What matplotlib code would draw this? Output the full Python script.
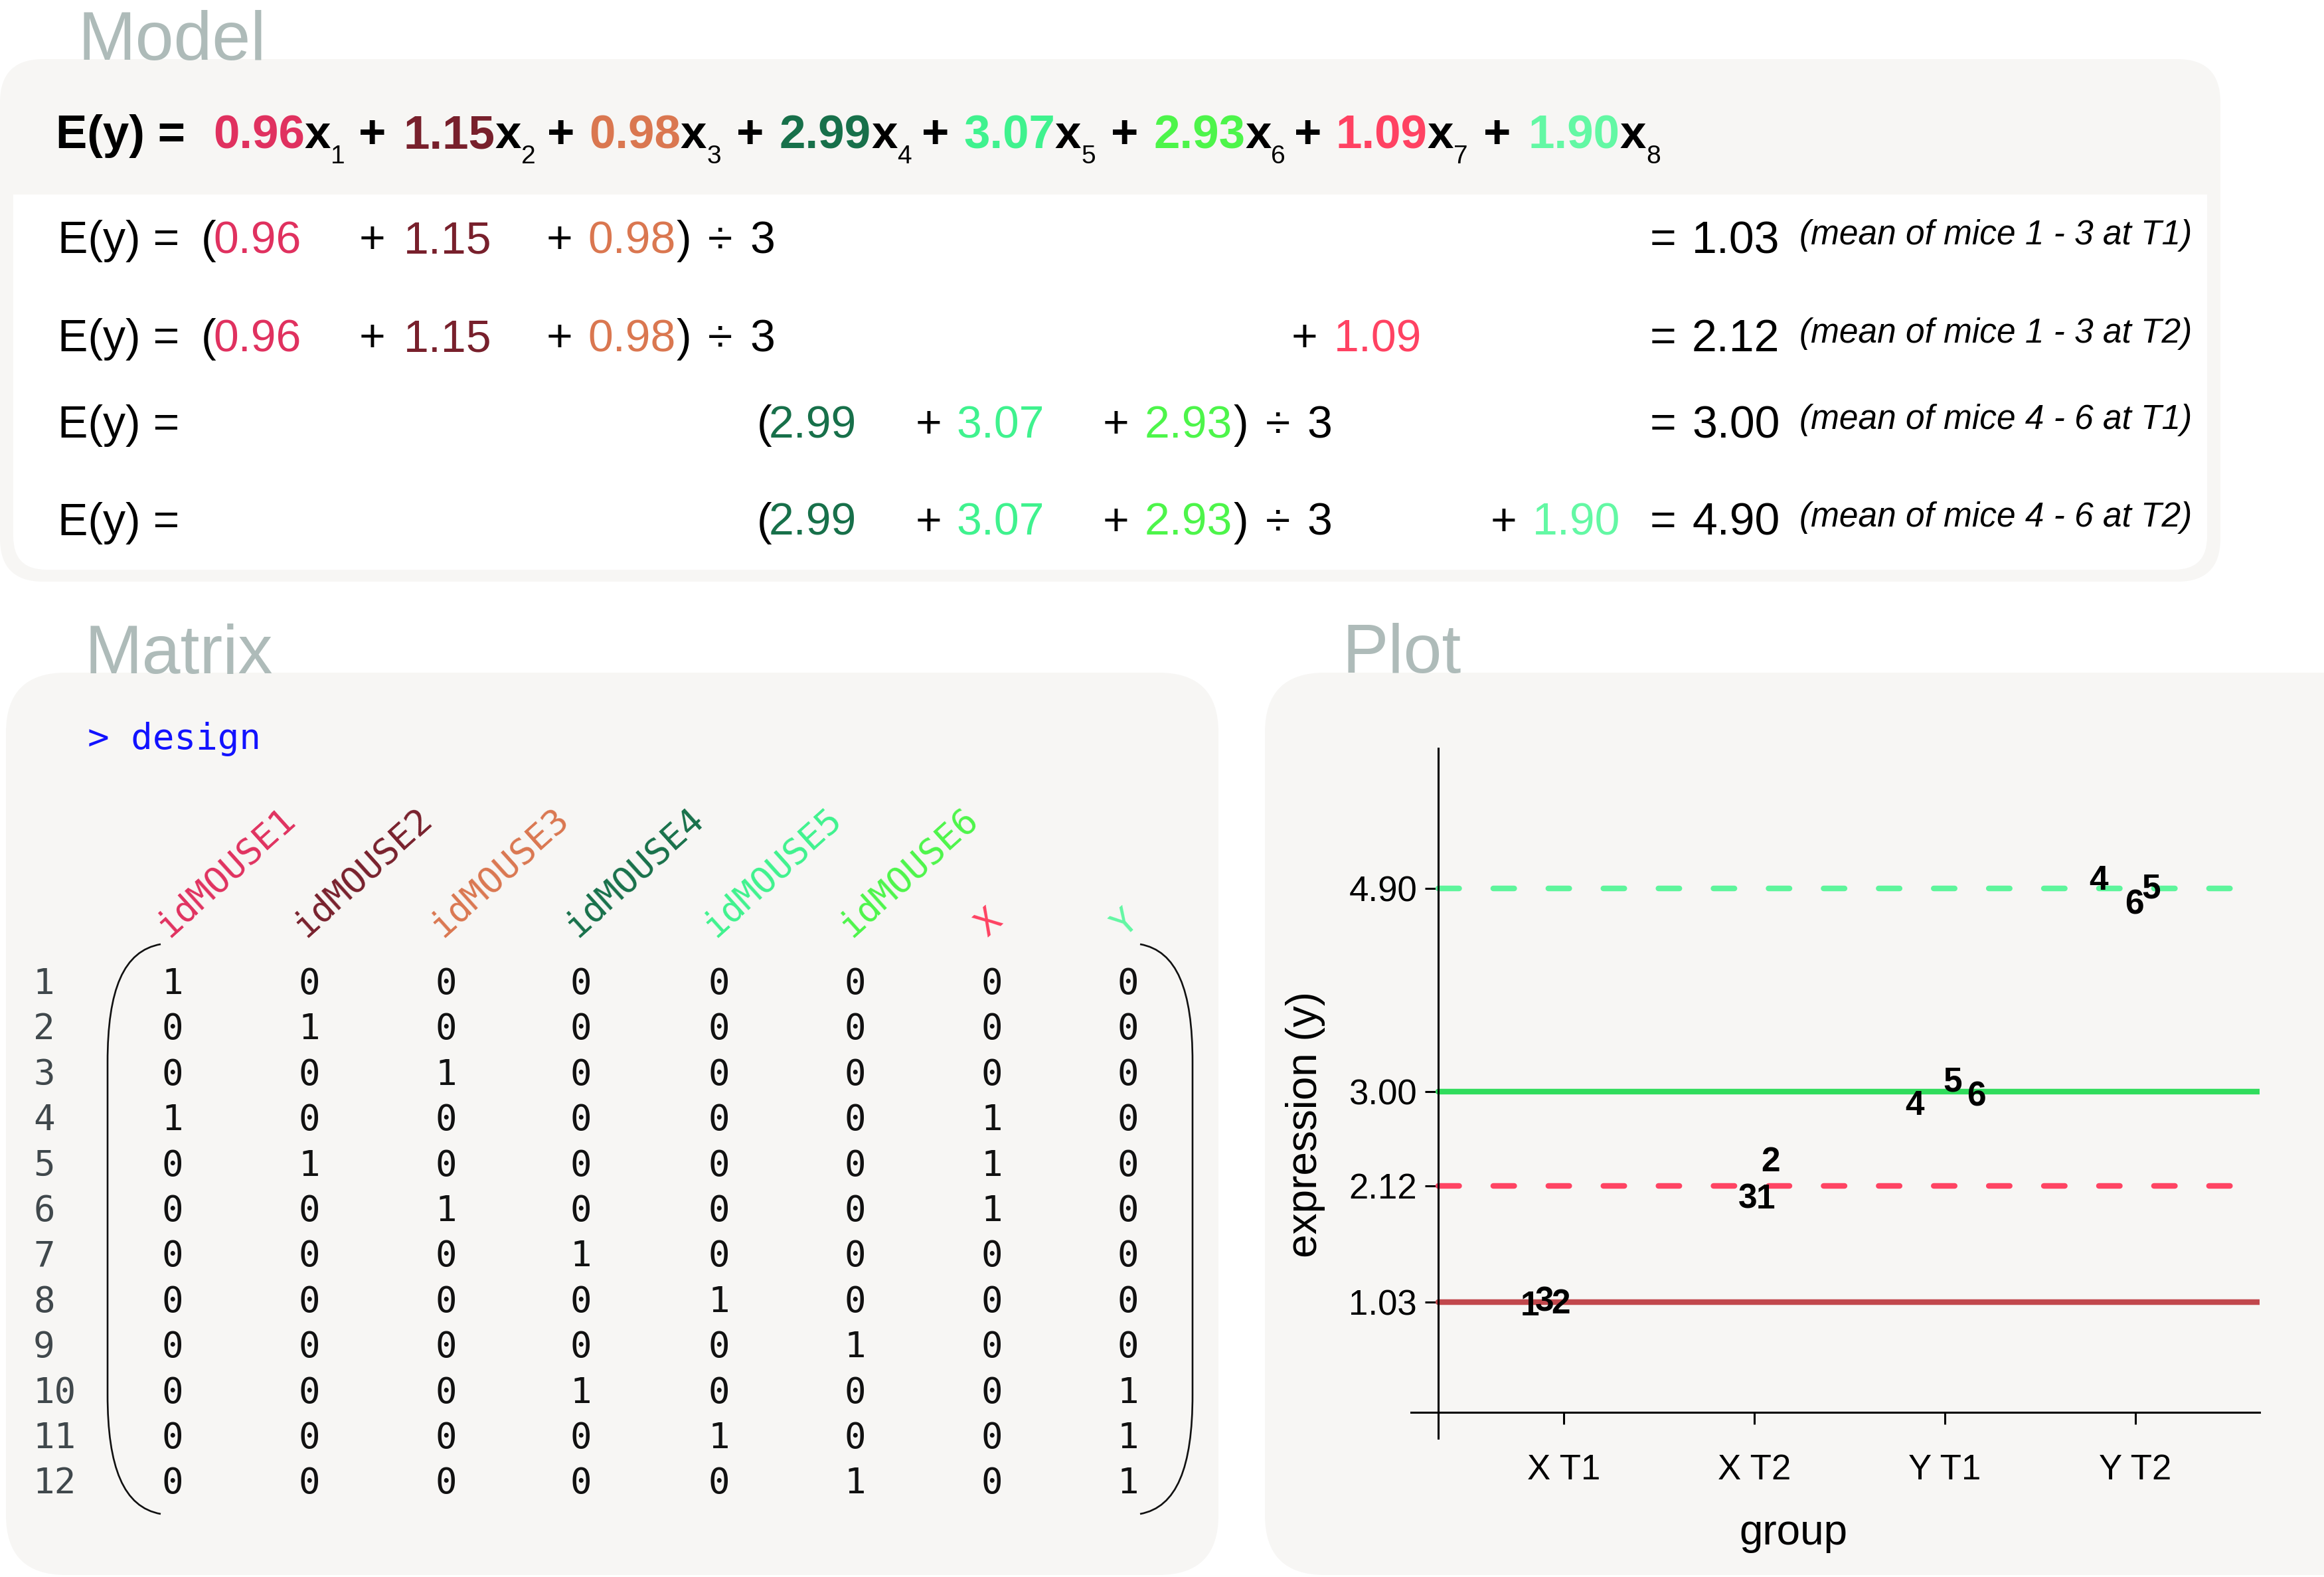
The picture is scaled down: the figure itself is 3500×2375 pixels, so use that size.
import matplotlib
matplotlib.use('Agg')
import matplotlib.pyplot as plt
from matplotlib.patches import FancyBboxPatch, Rectangle, PathPatch
from matplotlib.path import Path
from matplotlib.transforms import offset_copy

plt.rcParams['font.family'] = ['Liberation Sans', 'DejaVu Sans']
plt.rcParams['lines.scale_dashes'] = False

# ---- data ----
coef = [0.96, 1.15, 0.98, 2.99, 3.07, 2.93, 1.09, 1.90]
coef_colors = ['#e0315f', '#78202c', '#da7750', '#17704a',
               '#3ff28e', '#4df54a', '#ff4262', '#63f8a4']
group_means = [1.03, 2.12, 3.00, 4.90]
mean_notes = ['(mean of mice 1 - 3 at T1)', '(mean of mice 1 - 3 at T2)',
              '(mean of mice 4 - 6 at T1)', '(mean of mice 4 - 6 at T2)']
row_mice = [[0, 1, 2], [0, 1, 2], [3, 4, 5], [3, 4, 5]]
row_extra = [None, 6, None, 7]

col_names = ['idMOUSE1', 'idMOUSE2', 'idMOUSE3', 'idMOUSE4',
             'idMOUSE5', 'idMOUSE6', 'X', 'Y']
design = [
    [1, 0, 0, 0, 0, 0, 0, 0],
    [0, 1, 0, 0, 0, 0, 0, 0],
    [0, 0, 1, 0, 0, 0, 0, 0],
    [1, 0, 0, 0, 0, 0, 1, 0],
    [0, 1, 0, 0, 0, 0, 1, 0],
    [0, 0, 1, 0, 0, 0, 1, 0],
    [0, 0, 0, 1, 0, 0, 0, 0],
    [0, 0, 0, 0, 1, 0, 0, 0],
    [0, 0, 0, 0, 0, 1, 0, 0],
    [0, 0, 0, 1, 0, 0, 0, 1],
    [0, 0, 0, 0, 1, 0, 0, 1],
    [0, 0, 0, 0, 0, 1, 0, 1],
]

groups = ['X T1', 'X T2', 'Y T1', 'Y T2']
mean_colors = ['#c1474c', '#ff4463', '#30dc5c', '#5ef59c']
mean_dashed = [False, True, False, True]
obs_label = ['1', '3', '2', '3', '1', '2', '4', '5', '6', '4', '6', '5']
obs_x = [0.822, 0.899, 0.983, 1.965, 2.059, 2.087, 2.840, 3.042, 3.164, 3.808, 3.993, 4.084]
obs_y = [1.019, 1.062, 1.037, 2.019, 2.019, 2.366, 2.894, 3.118, 2.981, 5.00, 4.776, 4.925]

# ---- layout (pixels) ----
BOX = '#f7f6f4'
TITLE = '#aebbb9'
MONO = 'DejaVu Sans Mono'

fig = plt.figure(figsize=(35, 23.75), dpi=100)
bg = fig.add_axes([0, 0, 1, 1])
bg.set_xlim(0, 3500)
bg.set_ylim(2375, 0)
bg.axis('off')
renderer = fig.canvas.get_renderer()


def put(x, y, s, **kw):
    kw.setdefault('va', 'baseline')
    kw.setdefault('fontsize', 49)
    return bg.text(x, y, s, **kw)


def width(t):
    return t.get_window_extent(renderer).width


# panels
bg.add_patch(FancyBboxPatch((0, 89), 3344, 787, boxstyle='round,pad=0,rounding_size=65',
                            fc=BOX, ec='none'))
bg.add_patch(FancyBboxPatch((20, 293), 3304, 565, boxstyle='round,pad=0,rounding_size=50',
                            fc='white', ec='none'))
bg.add_patch(Rectangle((20, 293), 3304, 100, fc='white', ec='none'))
bg.add_patch(FancyBboxPatch((9, 1013), 1826, 1359, boxstyle='round,pad=0,rounding_size=90',
                            fc=BOX, ec='none'))
bg.add_patch(FancyBboxPatch((1905, 1013), 1800, 1359, boxstyle='round,pad=0,rounding_size=90',
                            fc=BOX, ec='none'))

put(117, 90, 'Model', fontsize=75, color=TITLE)
put(127, 1014, 'Matrix', fontsize=75, color=TITLE)
put(2022, 1013, 'Plot', fontsize=75, color=TITLE)

# ---- Model: full equation ----
yb = 223
coef_left = [321, 608, 887, 1174, 1451, 1737, 2012, 2302]
plus_top = [561, 845, 1130, 1409, 1694, 1970, 2255]
put(84, yb, 'E(y) =', fontsize=51, fontweight='bold')
for i, c in enumerate(coef):
    t = put(coef_left[i], yb, f'{c:.2f}', fontsize=51, fontweight='bold', color=coef_colors[i])
    x1 = coef_left[i] + width(t)
    t = put(x1, yb, 'x', fontsize=51, fontweight='bold')
    put(x1 + width(t), yb + 23, str(i + 1), fontsize=28)
    if i < len(plus_top):
        put(plus_top[i], yb, '+', fontsize=51, fontweight='bold', ha='center')

# ---- Model: group means ----
row_base = [381, 529, 659, 806]
grp_layout = {0: dict(lefts=[321, 608, 885], plus=[560, 842], div=1085, three=1129),
              3: dict(lefts=[1158, 1440, 1724], plus=[1398, 1680], div=1925, three=1968)}
extra_layout = {6: (1964, 2009), 7: (2265, 2308)}
for r, yb in enumerate(row_base):
    put(87, yb, 'E(y) =')
    L = grp_layout[row_mice[r][0]]
    put(L['lefts'][0] + 4, yb, '(', ha='right')
    for j, m in enumerate(row_mice[r]):
        t = put(L['lefts'][j], yb, f'{coef[m]:.2f}', color=coef_colors[m])
        if j > 0:
            put(L['plus'][j - 1], yb, '+', ha='center')
    put(L['lefts'][-1] + width(t) + 1, yb, ')')
    put(L['div'], yb, '÷', ha='center')
    put(L['three'], yb, '3')
    e = row_extra[r]
    if e is not None:
        px, cx = extra_layout[e]
        put(px, yb, '+', ha='center')
        put(cx, yb, f'{coef[e]:.2f}', color=coef_colors[e])
    put(2505, yb, '=', ha='center')
    put(2548, yb, f'{group_means[r]:.2f}')
    put(2710, yb - 13, mean_notes[r], fontsize=37, style='italic')

# ---- Matrix ----
put(132, 1128, '> design', fontsize=39, family=MONO, color='#1212ff')
col_x = [260, 466, 672, 875, 1083, 1288, 1494, 1699]
row_y0, row_dy = 1482, 68.4
for j, name in enumerate(col_names):
    bg.text(col_x[j] - 6, 1412, name, fontsize=39, family=MONO, color=coef_colors[j],
            rotation=42, rotation_mode='anchor', ha='left', va='baseline')
for i, row in enumerate(design):
    y = row_y0 + i * row_dy
    bg.text(50, y, str(i + 1), fontsize=39, family=MONO, color='#40484c', ha='left', va='center')
    for j, v in enumerate(row):
        bg.text(col_x[j], y, str(v), fontsize=39, family=MONO, color='#111111',
                ha='center', va='center')

codes = [Path.MOVETO, Path.CURVE4, Path.CURVE4, Path.CURVE4, Path.LINETO,
         Path.CURVE4, Path.CURVE4, Path.CURVE4]
for xe, xm in [(242, 162), (1717, 1796)]:
    d = xm - xe
    verts = [(xe, 1422), (xe + 0.7 * d, 1432), (xm, 1490), (xm, 1600),
             (xm, 2100), (xm, 2210), (xe + 0.7 * d, 2270), (xe, 2280)]
    bg.add_patch(PathPatch(Path(verts, codes), fc='none', ec='#111111', lw=1.9))

# ---- Plot ----
x0px, xstep = 2355, 287
y0px, ystep = 2127, 161
xlim = (0.2, 4.65)
ylim = (-0.24, 6.21)
left = x0px + (xlim[0] - 1) * xstep
right = x0px + (xlim[1] - 1) * xstep
top = y0px - ylim[1] * ystep
bottom = y0px - ylim[0] * ystep
ax = fig.add_axes([left / 3500, (2375 - bottom) / 2375,
                   (right - left) / 3500, (bottom - top) / 2375])
ax.patch.set_alpha(0)
ax.set_xlim(*xlim)
ax.set_ylim(*ylim)
yaxis_x = 1 + (2166 - x0px) / xstep
for s in ['top', 'right']:
    ax.spines[s].set_visible(False)
ax.spines['left'].set_position(('data', yaxis_x))
ax.spines['bottom'].set_position(('data', 0))
for s in ['left', 'bottom']:
    ax.spines[s].set_linewidth(2.2)

for v, c, dashed in zip(group_means, mean_colors, mean_dashed):
    if dashed:
        ax.plot([yaxis_x, xlim[1]], [v, v], color=c, lw=6.1, dashes=(22.7, 37),
                dash_capstyle='round', zorder=2)
    else:
        ax.plot([yaxis_x, xlim[1]], [v, v], color=c, lw=6.1, solid_capstyle='round', zorder=2)

# labels are centred on the glyphs: baseline half a digit height below the value
lab_tr = offset_copy(ax.transData, fig=fig, y=-13, units='points')
for s, x, y in zip(obs_label, obs_x, obs_y):
    ax.text(x, y, s, fontsize=37, fontweight='bold', ha='center', va='baseline',
            transform=lab_tr, zorder=3)

ax.set_yticks(group_means)
ax.set_yticklabels([f'{v:.2f}' for v in group_means])
ax.set_xticks(range(1, len(groups) + 1))
ax.set_xticklabels(groups)
ax.tick_params(axis='y', length=14.4, width=2.2, pad=8.6, labelsize=38)
ax.tick_params(axis='x', length=13, width=2.2, pad=32, labelsize=38)

put(2701, 2309, 'group', fontsize=46, ha='center', va='center')
put(1966, 1693, 'expression (y)', fontsize=46, ha='center', va='center', rotation=90)

fig.savefig('out.png', dpi=100, facecolor='white')
